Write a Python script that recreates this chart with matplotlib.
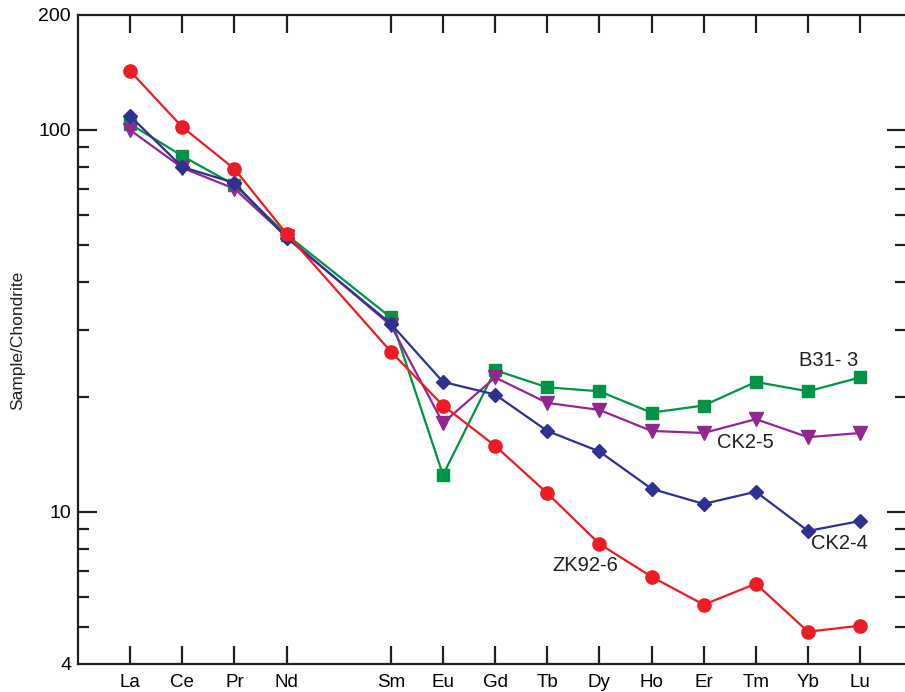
import matplotlib.pyplot as plt
from matplotlib.ticker import FixedLocator, NullFormatter

plt.rcParams['font.family'] = ['Liberation Sans', 'DejaVu Sans']

# REE order, Pm (index 4) left empty
elements = ['La', 'Ce', 'Pr', 'Nd', 'Sm', 'Eu', 'Gd', 'Tb', 'Dy', 'Ho', 'Er', 'Tm', 'Yb', 'Lu']
positions = [0, 1, 2, 3, 5, 6, 7, 8, 9, 10, 11, 12, 13, 14]

zk92_6 = [142.6, 101.8, 79.1, 53.5, 26.3, 19.0, 14.9, 11.2, 8.25, 6.77, 5.72, 6.49, 4.86, 5.04]
ck2_4 = [108.8, 80.0, 72.7, 52.2, 31.1, 21.9, 20.3, 16.3, 14.4, 11.5, 10.5, 11.3, 8.92, 9.47]
b31_3 = [103.7, 85.5, 71.8, 53.2, 32.3, 12.5, 23.5, 21.2, 20.7, 18.2, 19.0, 21.9, 20.7, 22.5]
ck2_5 = [100.0, 79.6, 70.2, 52.6, 30.8, 17.1, 22.5, 19.3, 18.5, 16.3, 16.1, 17.5, 15.7, 16.1]

fig = plt.figure(figsize=(9.05, 6.92), dpi=100)
ax = fig.add_axes([78 / 905, 28 / 692, 828 / 905, 649 / 692])

ax.plot(positions, b31_3, color='#009245', marker='s', ms=9, lw=1.6, zorder=3)
ax.plot(positions, ck2_5, color='#92278F', marker='v', ms=10, lw=1.6, zorder=4)
ax.plot(positions, ck2_4, color='#2E3192', marker='D', ms=7, lw=1.6, zorder=5)
ax.plot(positions, zk92_6, color='#ED1C24', marker='o', ms=9.5, lw=1.6, zorder=6)

ax.set_yscale('log')
ax.set_ylim(4, 200)
ax.set_xlim(-1.0, 14.88)

ax.yaxis.set_major_locator(FixedLocator([4, 10, 100, 200]))
ax.set_yticklabels(['4', '10', '100', '200'])
ax.yaxis.set_minor_locator(FixedLocator([5, 6, 7, 8, 9, 20, 30, 40, 50, 60, 70, 80, 90]))
ax.yaxis.set_minor_formatter(NullFormatter())

ax.set_xticks(positions)
ax.set_xticklabels(elements)

for side in ax.spines.values():
    side.set_linewidth(1.6)
    side.set_color('#231F20')

ax.tick_params(axis='x', which='major', direction='in', top=True, bottom=True,
               length=13, width=1.6, labelsize=13.5, pad=7, color='#231F20')
ax.tick_params(axis='y', which='major', direction='in', left=True, right=True,
               length=14, width=1.6, labelsize=14, pad=5, color='#231F20')
ax.tick_params(axis='y', which='minor', direction='in', left=True, right=True,
               length=8, width=1.6, color='#231F20')
# 4 and 200 carry labels but no visible tick marks
for t in ax.yaxis.get_major_ticks():
    if t.get_loc() in (4, 200):
        t.tick1line.set_visible(False)
        t.tick2line.set_visible(False)

fig.text(18 / 905, 1 - 340 / 692, 'Sample/Chondrite', rotation=90, fontsize=12.5,
         ha='center', va='center', color='#231F20')

ax.text(13.39, 24.9, 'B31- 3', fontsize=14.5, ha='center', va='center', color='#231F20')
ax.text(11.8, 15.2, 'CK2-5', fontsize=14.5, ha='center', va='center', color='#231F20')
ax.text(13.6, 8.25, 'CK2-4', fontsize=14.5, ha='center', va='center', color='#231F20')
ax.text(8.73, 7.23, 'ZK92-6', fontsize=14.5, ha='center', va='center', color='#231F20')

fig.savefig('out.png', dpi=100)
